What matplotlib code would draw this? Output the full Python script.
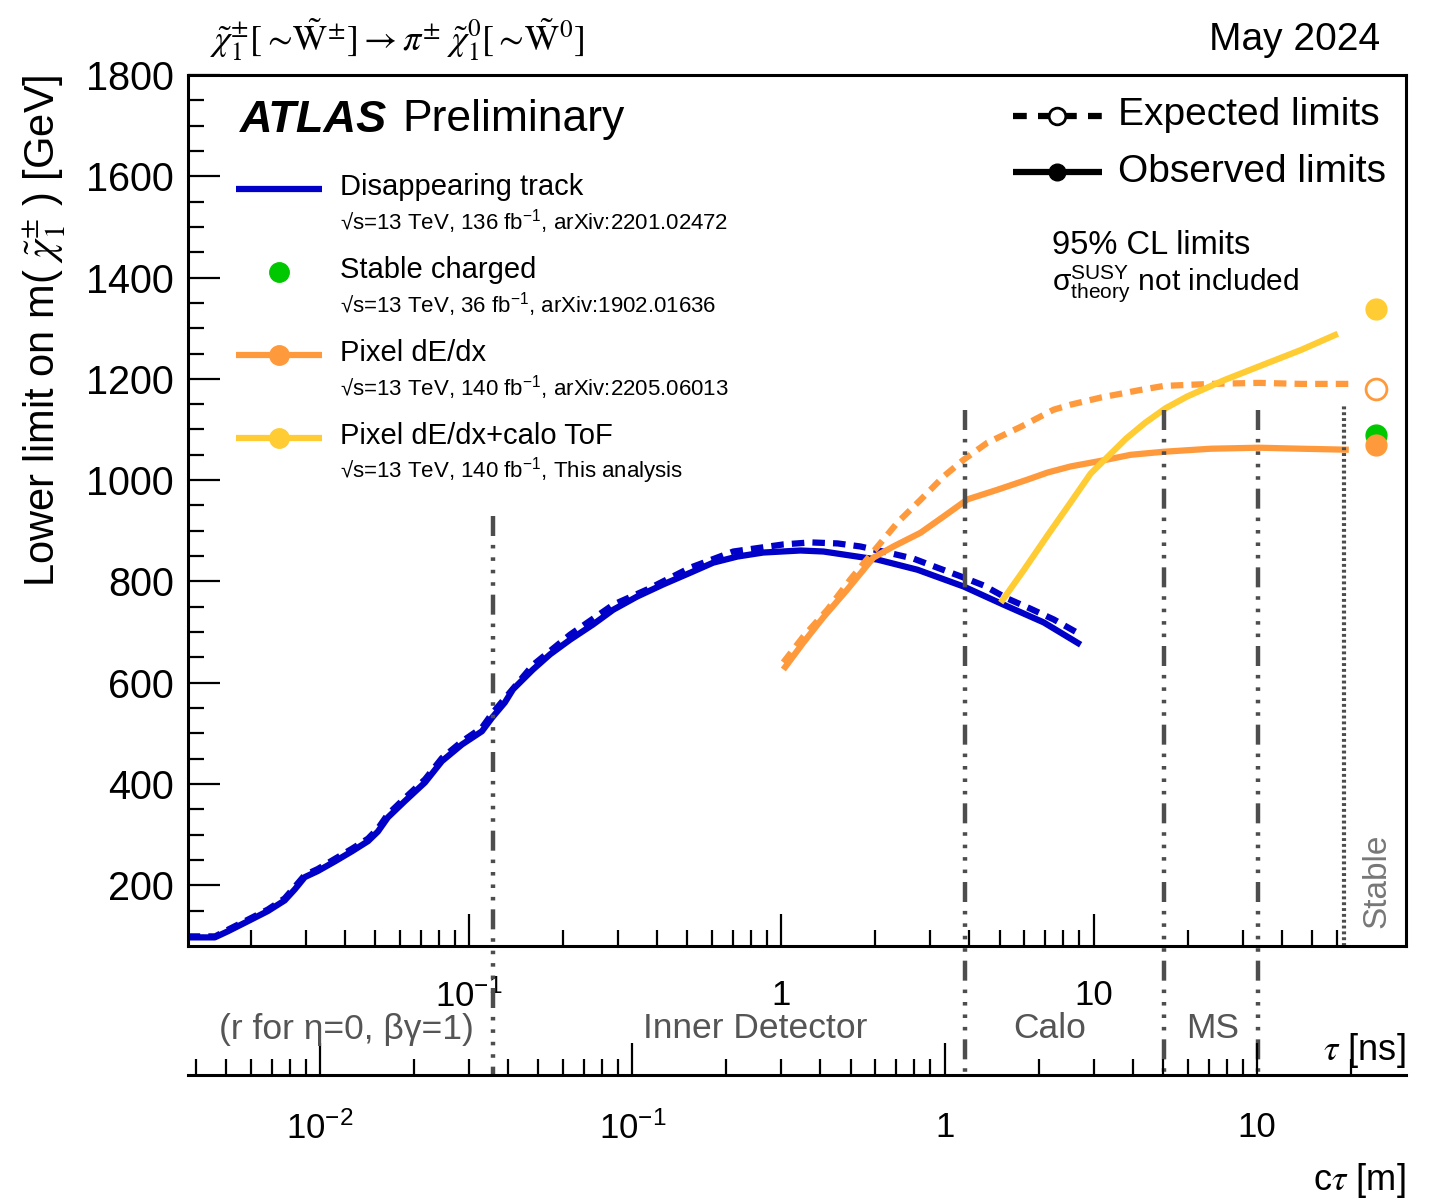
import matplotlib.pyplot as plt
from matplotlib.lines import Line2D
from matplotlib.ticker import FixedLocator, FixedFormatter, MultipleLocator
from matplotlib.transforms import blended_transform_factory

plt.rcParams['font.family'] = ['Liberation Sans', 'DejaVu Sans']
plt.rcParams['mathtext.fontset'] = 'custom'
plt.rcParams['mathtext.rm'] = 'Liberation Sans'
plt.rcParams['mathtext.it'] = 'Liberation Sans:italic'
plt.rcParams['mathtext.bf'] = 'Liberation Sans:bold'

C = 0.299792458  # m / ns

# ---- data (tau in ns, lower mass limit in GeV) ----
dt_obs_tau = [0.01257, 0.01535, 0.0169, 0.0196, 0.0227, 0.0257, 0.0277, 0.0298, 0.0328, 0.0372,
              0.0422, 0.0475, 0.0511, 0.0550, 0.0623, 0.0723, 0.0819, 0.0950, 0.110, 0.1186,
              0.1303, 0.1384, 0.1603, 0.1819, 0.2109, 0.2497, 0.2896, 0.3453, 0.4186, 0.5107,
              0.6053, 0.7227, 0.8755, 1.151, 1.364, 1.753, 2.032, 2.729, 3.831, 5.148, 6.918, 9.085]
dt_obs_m = [97, 97, 109, 129, 149, 170, 192, 216, 228, 247,
            267, 287, 306, 334, 366, 403, 445, 478, 504, 531,
            561, 587, 626, 656, 685, 715, 744, 770, 794, 817,
            837, 849, 857, 861, 859, 849, 843, 823, 790, 754, 719, 675]

dt_exp_tau = [0.01257, 0.0154, 0.0169, 0.0196, 0.0227, 0.0257, 0.0277, 0.0298, 0.0328, 0.0372,
              0.0422, 0.0475, 0.0511, 0.0550, 0.0623, 0.0723, 0.0819, 0.0950, 0.110, 0.1186,
              0.1303, 0.1603, 0.2109, 0.2896, 0.372, 0.5107, 0.702, 1.015, 1.239, 1.512,
              1.790, 2.187, 2.649, 3.162, 3.748, 4.443, 5.302, 6.28, 7.44, 9.085]
dt_exp_m = [99, 99, 112, 132, 152, 174, 197, 220, 232, 252,
            272, 292, 312, 340, 372, 409, 451, 484, 511, 539,
            569, 635, 695, 754, 784, 827, 859, 873, 877, 875,
            869, 857, 845, 827, 810, 792, 766, 746, 725, 695]

pd_obs_tau = [1.015, 1.176, 1.363, 1.627, 1.972, 2.285, 2.790, 3.305, 3.945, 4.921,
              6.140, 7.122, 8.436, 10.53, 13.14, 16.76, 23.7, 33.8, 46.1, 65.6]
pd_obs_m = [626, 679, 729, 784, 847, 869, 896, 928, 962, 981,
            1001, 1015, 1027, 1038, 1050, 1056, 1062, 1064, 1062, 1060]

pd_exp_tau = [1.015, 1.176, 1.404, 1.664, 1.972, 2.353, 2.790, 3.305, 3.829, 4.571,
              5.83, 7.44, 8.44, 10.53, 14.1, 16.76, 23.7, 33.8, 46.1, 65.6]
pd_exp_m = [640, 691, 744, 804, 859, 916, 961, 1007, 1040, 1074,
            1105, 1139, 1149, 1163, 1178, 1186, 1190, 1192, 1190, 1190]

tof_obs_tau = [5.04, 5.97, 7.12, 8.44, 9.78, 11.0, 12.7, 14.6, 17.0, 19.9, 26.3, 34.3, 46.1, 60.5]
tof_obs_m = [758, 822, 891, 956, 1013, 1044, 1082, 1113, 1142, 1165, 1198, 1226, 1257, 1289]

# stable-particle limits
stable_tof_obs = 1338
stable_pd_exp = 1180
stable_charged = 1090
stable_pd_obs = 1070

# detector boundaries in c*tau [m]
boundaries_ctau = [0.0358, 1.157, 5.03, 10.07]
stable_ctau = 19.0
regions = ['(r for η=0, βγ=1)', 'Inner Detector', 'Calo', 'MS']

BLUE = '#0000c8'
ORANGE = '#ff9a3c'
YELLOW = '#ffcc33'
GREEN = '#00c800'
GREY = '#4d4d4d'

W, H = 1430, 1201


def fx(x):
    return x / W


def fy(y):
    return 1 - y / H


fig = plt.figure(figsize=(14.3, 12.01), dpi=100)
ax = fig.add_axes([fx(188), fy(946), fx(1406) - fx(188), fy(75) - fy(946)])

tau_min, tau_max = 0.0126, 100.0
ax.set_xscale('log')
ax.set_xlim(tau_min, tau_max)
ax.set_ylim(80, 1800)

lw = 4.5
ax.plot(dt_exp_tau, dt_exp_m, color=BLUE, lw=lw, dashes=(2, 1.3), solid_capstyle='butt')
ax.plot(dt_obs_tau, dt_obs_m, color=BLUE, lw=lw, solid_capstyle='butt')
ax.plot(pd_exp_tau, pd_exp_m, color=ORANGE, lw=lw, dashes=(2, 1.3))
ax.plot(pd_obs_tau, pd_obs_m, color=ORANGE, lw=lw, solid_capstyle='butt')
ax.plot(tof_obs_tau, tof_obs_m, color=YELLOW, lw=lw, solid_capstyle='butt')

# stable points
st = 80.0
ax.plot([st], [stable_tof_obs], 'o', ms=15, color=YELLOW, clip_on=False)
ax.plot([st], [stable_pd_exp], 'o', ms=15, mfc='white', mec=ORANGE, mew=2, clip_on=False)
ax.plot([st], [stable_charged], 'o', ms=15, color=GREEN, clip_on=False)
ax.plot([st], [stable_pd_obs], 'o', ms=15, color=ORANGE, clip_on=False)

# boundary lines
trans = blended_transform_factory(ax.transData, ax.transAxes)
tops = [0.494, 0.615, 0.615, 0.615]
for b, t in zip(boundaries_ctau, tops):
    ax.plot([b / C, b / C], [t, -0.148], transform=trans, clip_on=False, color=GREY, lw=3.2,
            dashes=(4.5, 2, 0.8, 2, 0.8, 2, 0.8, 2, 0.8, 2))
ax.plot([stable_ctau / C] * 2, [0, 0.621], transform=trans, clip_on=False, color=GREY, lw=3,
        dashes=(0.7, 0.7))

# ticks
for s in ax.spines.values():
    s.set_linewidth(2.2)
ax.xaxis.set_major_locator(FixedLocator([0.1, 1, 10]))
ax.xaxis.set_major_formatter(FixedFormatter([r'$\mathdefault{10^{-1}}$', '1', '10']))
minors = [k * 10.0 ** e for e in (-2, -1, 0, 1) for k in range(2, 10)]
minors = [m for m in minors if tau_min < m < 65]
ax.xaxis.set_minor_locator(FixedLocator(minors))
ax.tick_params(axis='x', which='both', direction='in', top=False, width=1.6, labelsize=25, pad=24)
ax.tick_params(axis='x', which='major', length=23)
ax.tick_params(axis='x', which='minor', length=11.5, labelbottom=False)
ax.yaxis.set_major_locator(MultipleLocator(200))
ax.yaxis.set_minor_locator(MultipleLocator(50))
ax.tick_params(axis='y', which='both', direction='in', right=False, width=1.6, labelsize=28.5, pad=10)
ax.tick_params(axis='y', which='major', length=23)
ax.tick_params(axis='y', which='minor', length=11.5)

# c*tau axis
ax2 = fig.add_axes([fx(188), fy(1075), fx(1406) - fx(188), 0.0001])
ax2.patch.set_visible(False)
for k in ('top', 'left', 'right'):
    ax2.spines[k].set_visible(False)
ax2.spines['bottom'].set_linewidth(2.2)
ax2.set_xscale('log')
ax2.set_xlim(tau_min * C, tau_max * C)
ax2.set_yticks([])
ax2.xaxis.set_major_locator(FixedLocator([0.01, 0.1, 1, 10]))
ax2.xaxis.set_major_formatter(FixedFormatter([r'$\mathdefault{10^{-2}}$', r'$\mathdefault{10^{-1}}$', '1', '10']))
minors2 = [k * 10.0 ** e for e in (-3, -2, -1, 0, 1) for k in range(2, 10)]
minors2 = [m for m in minors2 if tau_min * C < m < tau_max * C]
ax2.xaxis.set_minor_locator(FixedLocator(minors2))
ax2.tick_params(axis='x', which='both', direction='in', width=1.6, labelsize=25, pad=26)
ax2.tick_params(axis='x', which='major', length=23)
ax2.tick_params(axis='x', which='minor', length=11.5, labelbottom=False)

# region labels
for name, x in zip(regions, [346, 755, 1050, 1213]):
    fig.text(fx(x), fy(1029), name, ha='center', va='center', size=25.5, color='#555555')
fig.text(fx(1377), fy(928), 'Stable', rotation=90, ha='center', va='bottom', size=24, color='#777777')
fig.text(fx(1406), fy(1050), r'$\tau$ [ns]', ha='right', va='center', size=26, math_fontfamily='stix')
fig.text(fx(1406), fy(1180), r'c$\tau$ [m]', ha='right', va='center', size=26, math_fontfamily='stix')

# axis title and headers
fig.text(fx(45), fy(75), r'Lower limit on m( $\tilde{\chi}_1^{\pm}$ ) [GeV]', rotation=90,
         ha='center', va='top', size=30, math_fontfamily='stix')
fig.text(fx(210), fy(40),
         r'$\tilde{\chi}_1^{\pm}[\sim\!\tilde{\mathrm{W}}^{\pm}] \rightarrow \pi^{\pm}\ \tilde{\chi}_1^{0}[\sim\!\tilde{\mathrm{W}}^{0}]$',
         ha='left', va='center', size=26, math_fontfamily='stix')
fig.text(fx(1380), fy(40), 'May 2024', ha='right', va='center', size=28)
fig.text(fx(240), fy(120), 'ATLAS', weight='bold', style='italic', ha='left', va='center', size=32.5)
fig.text(fx(402), fy(120), 'Preliminary', ha='left', va='center', size=32)

# left legend
names = ['Disappearing track', 'Stable charged', 'Pixel dE/dx', 'Pixel dE/dx+calo ToF']
subs = [r'√s=13 TeV, 136 fb$^{\mathdefault{-1}}$, arXiv:2201.02472',
        r'√s=13 TeV, 36 fb$^{\mathdefault{-1}}$, arXiv:1902.01636',
        r'√s=13 TeV, 140 fb$^{\mathdefault{-1}}$, arXiv:2205.06013',
        r'√s=13 TeV, 140 fb$^{\mathdefault{-1}}$, This analysis']
rows = [187, 270, 353, 436]
for name, sub, y in zip(names, subs, rows):
    fig.text(fx(340), fy(y), name, ha='left', va='center', size=21)
    fig.text(fx(340), fy(y + 35), sub, ha='left', va='center', size=16)
fig.add_artist(Line2D([fx(236), fx(322)], [fy(189)] * 2, color=BLUE, lw=lw, solid_capstyle='butt'))
fig.add_artist(Line2D([fx(279)], [fy(272)], marker='o', ms=14, color=GREEN, lw=0))
fig.add_artist(Line2D([fx(236), fx(322)], [fy(355)] * 2, color=ORANGE, lw=lw, solid_capstyle='butt'))
fig.add_artist(Line2D([fx(279)], [fy(355)], marker='o', ms=14, color=ORANGE, lw=0))
fig.add_artist(Line2D([fx(236), fx(322)], [fy(438)] * 2, color=YELLOW, lw=lw, solid_capstyle='butt'))
fig.add_artist(Line2D([fx(279)], [fy(438)], marker='o', ms=14, color=YELLOW, lw=0))

# right legend
fig.add_artist(Line2D([fx(1013), fx(1102)], [fy(116)] * 2, color='black', lw=4.5, dashes=(2.2, 1.8),
                      solid_capstyle='butt'))
fig.add_artist(Line2D([fx(1057)], [fy(116)], marker='o', ms=12, mfc='white', mec='black', mew=2, lw=0))
fig.add_artist(Line2D([fx(1013), fx(1102)], [fy(172)] * 2, color='black', lw=4.5, solid_capstyle='butt'))
fig.add_artist(Line2D([fx(1057)], [fy(172)], marker='o', ms=12, color='black', lw=0))
fig.text(fx(1118), fy(115), 'Expected limits', ha='left', va='center', size=28)
fig.text(fx(1118), fy(172), 'Observed limits', ha='left', va='center', size=28)
fig.text(fx(1052), fy(246), '95% CL limits', ha='left', va='center', size=23.5)
fig.text(fx(1052), fy(283), r'$\mathrm{\sigma}^{\mathrm{SUSY}}_{\mathrm{theory}}$ not included', ha='left',
         va='center', size=21.5)

fig.savefig('out.png', dpi=100)
